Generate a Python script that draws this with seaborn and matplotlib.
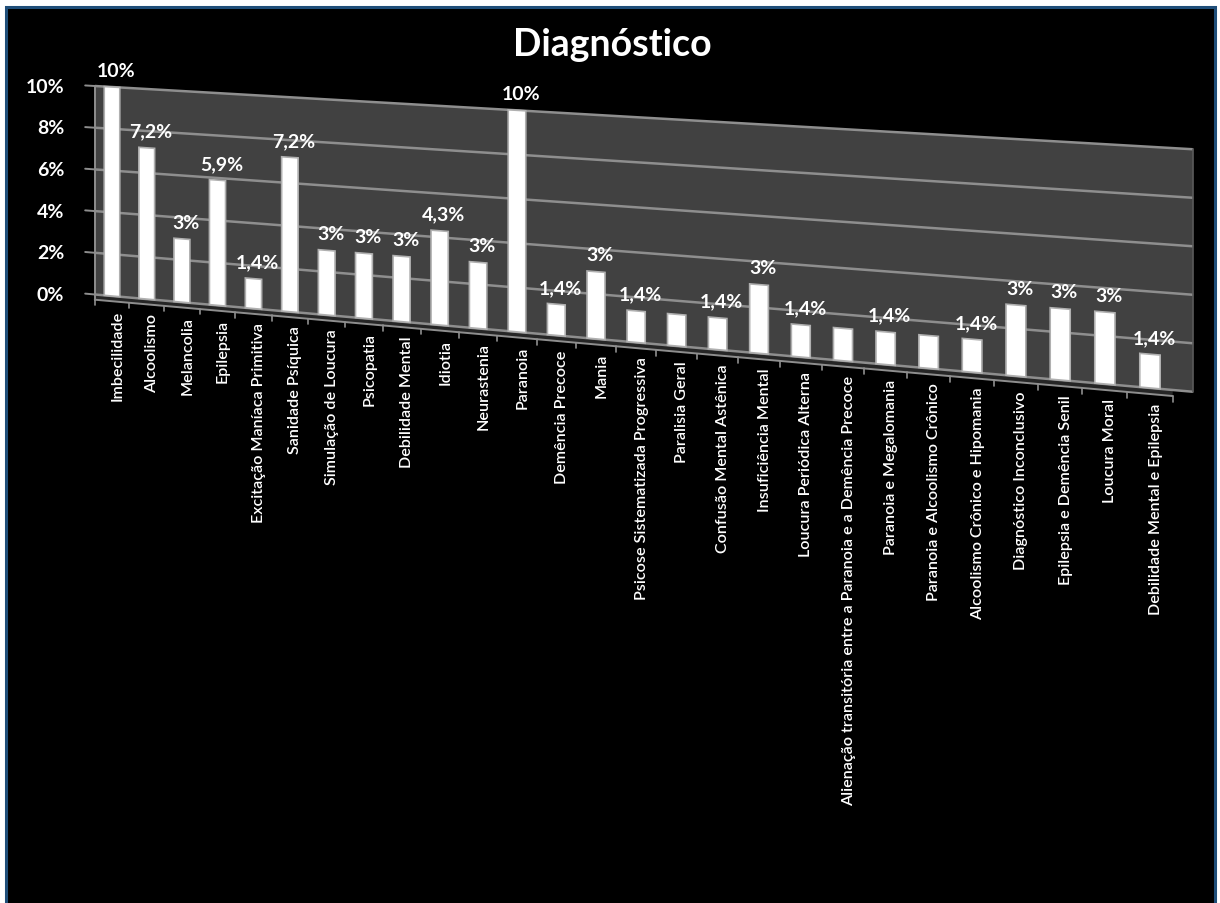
import numpy as np
import pandas as pd
import matplotlib
matplotlib.use("Agg")
import matplotlib.pyplot as plt
from matplotlib.patches import Rectangle
from matplotlib.transforms import Transform
import seaborn as sns

# ---- data -----------------------------------------------------------------
title = "Diagnóstico"
categories = [
    "Imbecilidade", "Alcoolismo", "Melancolia", "Epilepsia",
    "Excitação Maníaca Primitiva", "Sanidade Psíquica", "Simulação de Loucura",
    "Psicopatia", "Debilidade Mental", "Idiotia", "Neurastenia", "Paranoia",
    "Demência Precoce", "Mania", "Psicose Sistematizada Progressiva",
    "Paralisia Geral", "Confusão Mental Astênica", "Insuficiência Mental",
    "Loucura Periódica Alterna",
    "Alienação transitória entre a Paranoia e a Demência Precoce",
    "Paranoia e Megalomania", "Paranoia e Alcoolismo Crônico",
    "Alcoolismo Crônico e Hipomania", "Diagnóstico Inconclusivo",
    "Epilepsia e Demência Senil", "Loucura Moral",
    "Debilidade Mental e Epilepsia",
]
values = [
    10, 7.2, 3, 5.9, 1.4, 7.2, 3, 3, 3, 4.3, 3, 10, 1.4, 3, 1.4,
    1.4, 1.4, 3, 1.4, 1.4, 1.4, 1.4, 1.4, 3, 3, 3, 1.4,
]
# categories whose value label is not printed
unlabeled = [
    "Paralisia Geral",
    "Alienação transitória entre a Paranoia e a Demência Precoce",
    "Paranoia e Alcoolismo Crônico",
]
y_ticks = [0, 2, 4, 6, 8, 10]

df = pd.DataFrame({"diagnostico": categories, "pct": values})

# ---- style ----------------------------------------------------------------
W, H = 1220, 904
sns.set_theme(style="dark")
plt.rcParams["font.family"] = ["Lato", "DejaVu Sans"]

WALL = "#414141"
FLOOR = "#262626"
GRID = "#8e8e8e"
NAVY = "#1f4e79"


class ObliqueView(Transform):
    """Projects axes-fraction coordinates onto a receding plane
    (output in figure-fraction coordinates), giving a 3D-column look."""
    input_dims = output_dims = 2
    is_separable = False
    has_inverse = False

    def __init__(self, ax):
        super().__init__()
        self.ax = ax

    def transform_non_affine(self, values):
        values = np.asarray(values, dtype=float).reshape(-1, 2)
        x0, x1 = self.ax.get_xlim()
        y0, y1 = self.ax.get_ylim()
        i = x0 + values[:, 0] * (x1 - x0)
        v = y0 + values[:, 1] * (y1 - y0)
        xp = 112 + 34.54 * i + 0.207 * i ** 2
        base = 297 + 0.0886 * (xp - 112)
        unit = 20.9 + 0.0031 * (xp - 112)
        yp = base - v * unit
        return np.column_stack([xp / W, 1 - yp / H])


fig = plt.figure(figsize=(W / 100, H / 100), dpi=100)
fig.patch.set_facecolor("white")

# dark chart panel with navy frame
fig.add_artist(Rectangle((6 / W, -0.05), 1209 / W, 1.05 - 8 / H,
                         transform=fig.transFigure, facecolor="black",
                         edgecolor=NAVY, linewidth=2.2, zorder=0))

ax = fig.add_axes([95 / W, (H - 400) / H, 1080 / W, 310 / H])
sns.barplot(data=df, x="diagnostico", y="pct", color="white", width=0.45,
            edgecolor="#b0b0b0", linewidth=1.2, ax=ax, zorder=3)
ax.set_xlim(-0.5, len(categories) - 0.5)
ax.set_ylim(0, 10)
ax.set_axis_off()

view = ax.transData + ax.transAxes.inverted() + ObliqueView(ax) + fig.transFigure

for p in ax.patches:
    p.set_transform(view)
    p.set_clip_on(False)

n = len(categories)
left, right = -0.5, n - 0.5
wall_right = right + 0.45

# back wall, floor strip and grid
ax.add_patch(Rectangle((left, 0), wall_right - left, 10, transform=view,
                       facecolor=WALL, edgecolor="none", zorder=0,
                       clip_on=False))
ax.add_patch(Rectangle((left, -0.25), n, 0.25, transform=view,
                       facecolor=FLOOR, edgecolor="none", zorder=0.5,
                       clip_on=False))
for t in y_ticks:
    ax.plot([left, wall_right], [t, t], transform=view, color=GRID, lw=1.8,
            zorder=1, clip_on=False, solid_capstyle="butt")
    ax.plot([left - 0.28, left], [t, t], transform=view, color=GRID, lw=1.4,
            zorder=1, clip_on=False)
    ax.annotate(f"{t}%", xy=(left, t), xycoords=view, xytext=(-22, 0),
                textcoords="offset points", ha="right", va="center",
                fontsize=14, fontweight="bold", color="white",
                annotation_clip=False)

ax.plot([left, left], [-0.25, 10], transform=view, color=GRID, lw=1.4,
        zorder=1, clip_on=False)
ax.plot([wall_right, wall_right], [0, 10], transform=view, color="#5a5a5a",
        lw=1.2, zorder=1, clip_on=False)
ax.plot([left, right], [-0.25, -0.25], transform=view, color=GRID, lw=1.4,
        zorder=4, clip_on=False)
for k in range(n + 1):
    ax.plot([k - 0.5, k - 0.5], [-0.25, -0.5], transform=view, color=GRID,
            lw=1.2, zorder=4, clip_on=False)

# value labels and category labels
for i, (cat, v) in enumerate(zip(categories, values)):
    if cat not in unlabeled:
        txt = f"{v:g}".replace(".", ",") + "%"
        ax.annotate(txt, xy=(i, v), xycoords=view, xytext=(3, 6),
                    textcoords="offset points", ha="center", va="bottom",
                    fontsize=14, fontweight="bold", color="white",
                    zorder=5, annotation_clip=False)
    ax.annotate(cat, xy=(i, -0.25), xycoords=view, xytext=(4, -6),
                textcoords="offset points", ha="center", va="top",
                rotation=90, fontsize=11.6, fontweight="semibold",
                color="white", zorder=5, annotation_clip=False)

fig.text(612 / W, 1 - 45 / H, title, ha="center", va="center",
         fontsize=27, fontweight="bold", color="white")

fig.savefig("out.png", dpi=100, facecolor=fig.get_facecolor())
